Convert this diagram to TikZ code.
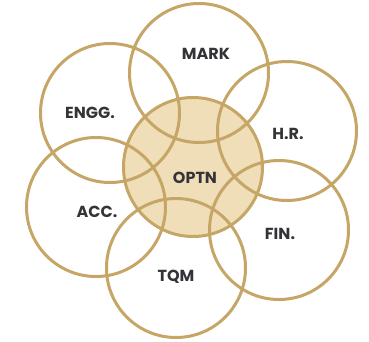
\documentclass[tikz,border=0pt]{standalone}
\usepackage{fontspec}
\setmainfont{Poppins}
\definecolor{ring}{RGB}{198,166,102}
\definecolor{core}{RGB}{240,222,184}
\definecolor{ink}{RGB}{52,52,56}
\begin{document}
\begin{tikzpicture}[x=1pt,y=-1pt,
  ringc/.style={circle,draw=ring,line width=3pt,minimum size=139pt,inner sep=0pt},
  lbl/.style={text=ink,font=\fontsize{16}{16}\selectfont\bfseries,inner sep=0pt}]
\useasboundingbox (0,0) rectangle (369,341);
\node[ringc,fill=core] (optn) at (193,167) {};
\node[ringc] (mark) at (199,73) {};
\node[ringc] (hr) at (287,131) {};
\node[ringc] (fin) at (279,230) {};
\node[ringc] (tqm) at (176,268) {};
\node[ringc] (acc) at (96,207) {};
\node[ringc] (engg) at (110,113) {};
\node[lbl] (lmark) at (206,54) {MARK};
\node[lbl] (lengg) at (90,113) {ENGG.};
\node[lbl] (lhr) at (288,134) {H.R.};
\node[lbl] (loptn) at (195,178) {OPTN};
\node[lbl] (lacc) at (97,212) {ACC.};
\node[lbl] (lfin) at (280,234) {FIN.};
\node[lbl] (ltqm) at (176,277) {TQM};
\end{tikzpicture}
\end{document}
